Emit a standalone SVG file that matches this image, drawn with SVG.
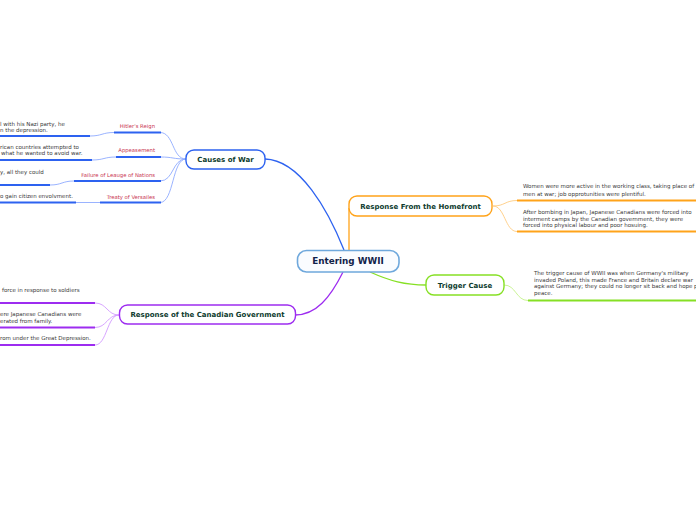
<svg xmlns="http://www.w3.org/2000/svg" width="696" height="520" viewBox="0 0 696 520">
<style>
.bg{fill:#ffffff}
.node{fill:#ffffff;stroke-width:1.4}
.lbl{font-family:"DejaVu Sans",Verdana,sans-serif;font-weight:bold;font-size:7px;fill:#0d3b2e;text-anchor:middle}
.main{font-size:8.8px;fill:#10224a}
.sub{font-family:"DejaVu Sans",Verdana,sans-serif;font-size:5.3px;fill:#c8314e;text-anchor:end}
.leaf{font-family:"DejaVu Sans",Verdana,sans-serif;font-size:5.5px;fill:#3a3a3a}
.conn{fill:none;stroke-width:1.3}
.thin{fill:none;stroke-width:0.9}
.ul{fill:none;stroke-width:1.8}
.blue{stroke:#2d62f0}.lblue{stroke:#8eaaff}
.orange{stroke:#ffa31a}.lorange{stroke:#ffcc80}
.green{stroke:#86e024}.lgreen{stroke:#c4f28a}
.purple{stroke:#9d2cf0}.lpurple{stroke:#d39bff}
</style>
<rect class="bg" x="0" y="0" width="696" height="520"/>
<g id="connectors">
<path class="conn blue" d="M265,159 C300,160 328,210 344,250"/>
<path class="conn orange" d="M349,250 L349,208"/>
<path class="conn green" d="M370,272 C390,281 405,285 426,285"/>
<path class="conn purple" d="M343,272 C330,298 316,315 295,315"/>
<path class="thin lblue" d="M186,159 C172,159 174,132.5 160,132.5"/>
<path class="thin lblue" d="M186,159 C172,159 174,157 160,157"/>
<path class="thin lblue" d="M186,159 C172,159 174,181 160,181"/>
<path class="thin lblue" d="M186,159 C172,159 174,202.5 160,202.5"/>
<path class="thin lblue" d="M114,132.5 C102,132.5 102,136 90,136"/>
<path class="thin lblue" d="M116,157 C104,157 104,160 92,160"/>
<path class="thin lblue" d="M74,181 C62,181 62,185 50,185"/>
<path class="thin lblue" d="M100,202.5 L76,202.5"/>
<path class="thin lorange" d="M493,206 C505,206 505,200.5 517,200.5"/>
<path class="thin lorange" d="M493,206 C505,206 505,231.5 517,231.5"/>
<path class="thin lgreen" d="M504,285 C516,285 516,300.5 528,300.5"/>
<path class="thin lpurple" d="M119,315 C107,315 107,303 95,303"/>
<path class="thin lpurple" d="M119,315 C107,315 107,327.5 95,327.5"/>
<path class="thin lpurple" d="M119,315 C107,315 107,345 95,345"/>
</g>
<g id="center">
<rect x="297.5" y="250.5" width="101.5" height="21.5" rx="9" fill="#fafcff" stroke="#6fa8dc" stroke-width="1.6"/>
<text class="lbl main" x="348" y="264.2">Entering WWII</text>
</g>
<g id="causes">
<rect class="node blue" x="186" y="150" width="79" height="19" rx="8"/>
<text class="lbl" x="225.5" y="161.8">Causes of War</text>
</g>
<g id="hitler">
<text class="sub" x="155" y="128">Hitler's Reign</text>
<path class="ul blue" d="M114,132.5 H161"/>
</g>
<g id="appeasement">
<text class="sub" x="155" y="152">Appeasement</text>
<path class="ul blue" d="M116,157 H161"/>
</g>
<g id="failure">
<text class="sub" x="155" y="177">Failure of Leauge of Nations</text>
<path class="ul blue" d="M74,181 H161"/>
</g>
<g id="treaty">
<text class="sub" x="155" y="198.5">Treaty of Versailes</text>
<path class="ul blue" d="M100,202.5 H161"/>
</g>
<g id="hitler-leaf">
<text class="leaf" x="0" y="125.5">l with his Nazi party, he</text>
<text class="leaf" x="0" y="131.5">n the depression.</text>
<path class="ul blue" d="M0,136 H90"/>
</g>
<g id="appeasement-leaf">
<text class="leaf" x="0" y="148.5">rican countries attempted to</text>
<text class="leaf" x="1" y="155">what he wanted to avoid war.</text>
<path class="ul blue" d="M0,160 H92"/>
</g>
<g id="failure-leaf">
<text class="leaf" x="0" y="173.5">y, all they could</text>
<path class="ul blue" d="M0,185 H50"/>
</g>
<g id="treaty-leaf">
<text class="leaf" x="0" y="198">o gain citizen envolvment.</text>
<path class="ul blue" d="M0,202.5 H76"/>
</g>
<g id="homefront">
<rect class="node orange" x="349" y="196" width="143" height="20" rx="8"/>
<text class="lbl" x="420.5" y="208.5">Response From the Homefront</text>
</g>
<g id="homefront-leaf1">
<text class="leaf" x="523" y="188">Women were more active in the working class, taking place of</text>
<text class="leaf" x="523" y="195.5">men at war; job opprotunities were plentiful.</text>
<path class="ul orange" d="M517,200.5 H696"/>
</g>
<g id="homefront-leaf2">
<text class="leaf" x="523" y="214">After bombing in Japan, Japanese Canadians were forced into</text>
<text class="leaf" x="523" y="220.5">interment camps by the Canadian government, they were</text>
<text class="leaf" x="523" y="227">forced into physical labour and poor hosuing.</text>
<path class="ul orange" d="M517,231.5 H696"/>
</g>
<g id="trigger">
<rect class="node green" x="426" y="275" width="78" height="20" rx="8"/>
<text class="lbl" x="465" y="287.5">Trigger Cause</text>
</g>
<g id="trigger-leaf">
<text class="leaf" x="534" y="275">The trigger cause of WWII was when Germany's military</text>
<text class="leaf" x="534" y="281.5">invaded Poland, this made France and Britain declare war</text>
<text class="leaf" x="534" y="288">against Germany; they could no longer sit back and hope p</text>
<text class="leaf" x="534" y="294.5">peace.</text>
<path class="ul green" d="M528,300.5 H696"/>
</g>
<g id="government">
<rect class="node purple" x="119.5" y="305" width="176" height="19" rx="8"/>
<text class="lbl" x="207.5" y="317.3">Response of the Canadian Government</text>
</g>
<g id="government-leaf1">
<text class="leaf" x="2" y="292">force in response to soldiers</text>
<path class="ul purple" d="M0,303 H95"/>
</g>
<g id="government-leaf2">
<text class="leaf" x="0" y="316">ere Japanese Canadians were</text>
<text class="leaf" x="0" y="322.5">erated from family.</text>
<path class="ul purple" d="M0,327.5 H95"/>
</g>
<g id="government-leaf3">
<text class="leaf" x="0" y="340">rom under the Great Depression.</text>
<path class="ul purple" d="M0,345 H95"/>
</g>
</svg>
